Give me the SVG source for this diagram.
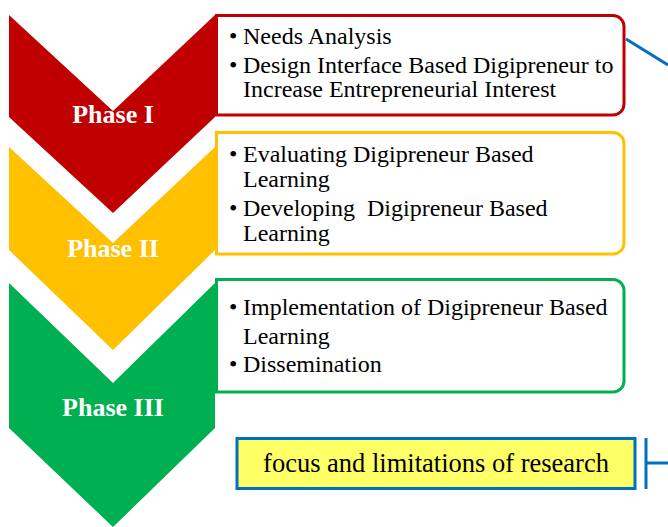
<svg xmlns="http://www.w3.org/2000/svg" width="668" height="527" viewBox="0 0 668 527">
<style>
.ph{font-family:"Liberation Serif","Times New Roman",serif;font-weight:bold;font-size:26px;fill:#fff;text-anchor:middle}
.t{font-family:"Liberation Serif","Times New Roman",serif;font-size:24px;fill:#000}
.f{font-family:"Liberation Serif","Times New Roman",serif;font-size:26.5px;fill:#000;text-anchor:middle}
.box{fill:#fff;stroke-width:3}
</style>
<rect width="668" height="527" fill="#fff"/>
<g id="connectors" fill="none" stroke="#0070C0" stroke-width="3">
<line x1="626" y1="39" x2="668" y2="65"/>
<line x1="646" y1="438" x2="646" y2="489"/>
<line x1="646" y1="463" x2="668" y2="463"/>
</g>
<g id="phase1">
<polygon points="9,15 113,111 215,15 215,117 113,213 9,117" fill="#C00000"/>
<text class="ph" x="113" y="123">Phase I</text>
</g>
<g id="phase2">
<polygon points="9,147 113,243 215,147 215,250 113,350 9,250" fill="#FFC000"/>
<text class="ph" x="113" y="257">Phase II</text>
</g>
<g id="phase3">
<polygon points="9,283 113,383 215,283 215,428 113,527 9,428" fill="#00B050"/>
<text class="ph" x="113" y="416">Phase III</text>
</g>
<g id="box1">
<path class="box" stroke="#C00000" d="M216.5,15.5 H613 a11,11 0 0 1 11,11 V104 a11,11 0 0 1 -11,11 H216.5 Z"/>
<text class="t"><tspan x="229" y="44">•</tspan><tspan x="243" y="44">Needs Analysis</tspan><tspan x="229" y="73">•</tspan><tspan x="243" y="73">Design Interface Based Digipreneur to</tspan><tspan x="243" y="97">Increase Entrepreneurial Interest</tspan></text>
</g>
<g id="box2">
<path class="box" stroke="#FFC000" d="M216.5,132.5 H613 a11,11 0 0 1 11,11 V243 a11,11 0 0 1 -11,11 H216.5 Z"/>
<text class="t"><tspan x="229" y="162">•</tspan><tspan x="243" y="162">Evaluating Digipreneur Based</tspan><tspan x="243" y="187">Learning</tspan><tspan x="229" y="216">•</tspan><tspan x="243" y="216" xml:space="preserve">Developing  Digipreneur Based</tspan><tspan x="243" y="241">Learning</tspan></text>
</g>
<g id="box3">
<path class="box" stroke="#00B050" d="M216.5,279.5 H613 a11,11 0 0 1 11,11 V381 a11,11 0 0 1 -11,11 H216.5 Z"/>
<text class="t"><tspan x="229" y="315">•</tspan><tspan x="243" y="315">Implementation of Digipreneur Based</tspan><tspan x="243" y="344">Learning</tspan><tspan x="229" y="372">•</tspan><tspan x="243" y="372">Dissemination</tspan></text>
</g>
<g id="focus">
<rect x="237" y="438.5" width="398" height="50" fill="#FFFF66" stroke="#0070C0" stroke-width="3"/>
<text class="f" x="436" y="472">focus and limitations of research</text>
</g>
</svg>
